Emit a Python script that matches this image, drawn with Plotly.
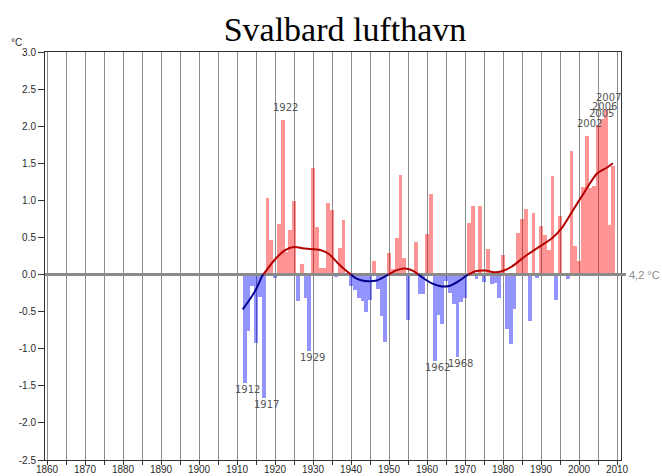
import plotly.graph_objects as go

# Annual temperature deviation, Svalbard lufthavn (°C, relative to the 4,2 °C normal)
years = list(range(1912, 2010))
deviation = [
    -1.46, -0.76, -0.16, -0.92, -0.30, -1.66, 1.03, 0.46, -0.05, 0.68,   # 1912-1921
    2.09, 0.30, 0.60, 0.99, -0.36, 0.14, -0.31, -1.03, 1.43, 0.64,      # 1922-1931
    0.09, 0.09, 0.97, 0.87, -0.03, 0.36, 0.73, 0.02, -0.16, -0.21,      # 1932-1941
    -0.31, -0.35, -0.50, -0.34, 0.18, -0.20, -0.56, -0.91, 0.29, 0.08,  # 1942-1951
    0.49, 1.34, 0.22, -0.61, 0.02, 0.44, -0.26, -0.26, 0.54, 1.09,      # 1952-1961
    -1.16, -0.55, -0.67, -0.09, -0.25, -0.40, -1.11, -0.37, -0.31, 0.70, # 1962-1971
    0.93, -0.06, 0.93, -0.10, 0.34, -0.13, -0.11, -0.31, 0.26, -0.73,   # 1972-1981
    -0.94, -0.47, 0.56, 0.75, 0.89, -0.62, 0.83, -0.05, 0.66, 0.53,     # 1982-1991
    0.33, 1.33, -0.34, 0.79, 0.02, -0.06, 1.66, 0.39, 0.18, 1.18,       # 1992-2001
    1.87, 1.17, 1.19, 2.01, 2.10, 2.22, 0.67, 1.46,                     # 2002-2009
]

# Smoothed trend (year, °C)
trend_years = [1911.5, 1914.8, 1916.6, 1920.1, 1922.7, 1924.9, 1928.0, 1931.9,
               1934.1, 1936.8, 1938.9, 1941.1, 1942.9, 1944.6, 1946.8, 1949.5,
               1952.1, 1954.3, 1956.5, 1958.7, 1961.3, 1963.9, 1966.1, 1968.3,
               1970.5, 1972.7, 1975.3, 1978.0, 1979.7, 1982.4, 1985.9, 1989.4,
               1992.9, 1995.5, 1998.2, 2000.8, 2003.0, 2004.7, 2007.3, 2008.9]
trend_values = [-0.47, -0.22, -0.02, 0.21, 0.33, 0.37, 0.35, 0.33,
                0.28, 0.14, 0.045, -0.045, -0.08, -0.09, -0.08, -0.01,
                0.06, 0.08, 0.045, -0.036, -0.12, -0.16, -0.15, -0.09,
                -0.01, 0.045, 0.054, 0.03, 0.045, 0.11, 0.25, 0.37,
                0.49, 0.63, 0.85, 1.06, 1.24, 1.36, 1.44, 1.50]

# Years marked with a label
labelled_years = [1912, 1917, 1922, 1929, 1962, 1968, 2002, 2005, 2006, 2007]

x_tick_years = [1860, 1870, 1880, 1890, 1900, 1910, 1920, 1930,
                1940, 1950, 1960, 1970, 1980, 1990, 2000, 2010]
x_minor_years = [1865, 1875, 1885, 1895, 1905, 1915, 1925, 1935,
                 1945, 1955, 1965, 1975, 1985, 1995, 2005]
y_ticks = [-2.5, -2.0, -1.5, -1.0, -0.5, 0.0, 0.5, 1.0, 1.5, 2.0, 2.5, 3.0]
y_tick_labels = ["-2.5", "-2.0", "-1.5", "-1.0", "-0.5", "0.0",
                 "0.5", "1.0", "1.5", "2.0", "2.5", "3.0"]

title_text = "Svalbard lufthavn"
unit_text = "°C"
normal_text = "4,2 °C"

X_RANGE = [1859.47, 2011.05]
Y_RANGE = [-2.5, 3.0]

WARM_BAR = "rgba(255,0,0,0.42)"
COLD_BAR = "rgba(0,0,255,0.42)"
WARM_LINE = "#b40000"
COLD_LINE = "#00008c"
GRID = "#8c8c8c"
AXIS = "#333333"
TICK_FONT = dict(family="Liberation Sans, Arial, sans-serif", size=10, color="#2a2a2a")


def split_by_sign(xs, ys):
    """Split a polyline into runs above and below zero, joined at the crossings."""
    segments = []
    cur_x, cur_y = [xs[0]], [ys[0]]
    cur_pos = ys[0] >= 0
    for i in range(1, len(xs)):
        pos = ys[i] >= 0
        if pos != cur_pos:
            t = ys[i - 1] / (ys[i - 1] - ys[i])
            xc = xs[i - 1] + t * (xs[i] - xs[i - 1])
            cur_x.append(xc)
            cur_y.append(0.0)
            segments.append((cur_pos, cur_x, cur_y))
            cur_x, cur_y = [xc], [0.0]
            cur_pos = pos
        cur_x.append(xs[i])
        cur_y.append(ys[i])
    segments.append((cur_pos, cur_x, cur_y))
    return segments


fig = go.Figure()

fig.add_trace(go.Bar(
    x=years, y=deviation,
    marker=dict(color=[WARM_BAR if v >= 0 else COLD_BAR for v in deviation],
                line=dict(width=0)),
    hoverinfo="x+y", showlegend=False,
))

# Zero (normal) line
fig.add_trace(go.Scatter(
    x=X_RANGE, y=[0, 0], mode="lines",
    line=dict(color="#8a8a8a", width=3),
    hoverinfo="skip", showlegend=False,
))

for positive, sx, sy in split_by_sign(trend_years, trend_values):
    fig.add_trace(go.Scatter(
        x=sx, y=sy, mode="lines",
        line=dict(color=WARM_LINE if positive else COLD_LINE, width=2, shape="spline", smoothing=0.8),
        hoverinfo="skip", showlegend=False,
    ))

annotations = []
value_by_year = dict(zip(years, deviation))
for yr in labelled_years:
    v = value_by_year[yr]
    annotations.append(dict(
        x=yr, y=v, xref="x", yref="y", text=str(yr), showarrow=False,
        xshift=3, yshift=12 if v >= 0 else -7, yanchor="middle",
        font=dict(family="DejaVu Sans, sans-serif", size=10, color="#555555"),
    ))

annotations.append(dict(
    x=-0.05, y=1.024, xref="paper", yref="paper", text=unit_text, showarrow=False,
    xanchor="center", yanchor="middle", font=TICK_FONT,
))
annotations.append(dict(
    x=1.0105, y=0, xref="paper", yref="y", text=normal_text, showarrow=False,
    xanchor="left", yanchor="middle",
    font=dict(family="Liberation Sans, Arial, sans-serif", size=11, color="#8a8a8a"),
))

fig.update_layout(
    width=662, height=476,
    margin=dict(l=45, r=41, t=52, b=16, autoexpand=False),
    paper_bgcolor="white", plot_bgcolor="white",
    bargap=0,
    title=dict(
        text=title_text, x=345 / 662, xref="container", xanchor="center",
        y=1 - 29 / 476, yref="container", yanchor="middle",
        font=dict(family="Liberation Serif, Times New Roman, serif", size=34, color="#000000"),
    ),
    annotations=annotations,
    shapes=[dict(
        type="line", xref="paper", yref="y", x0=1.0, x1=1.0087, y0=0, y1=0,
        line=dict(color="#8a8a8a", width=3),
    )],
    xaxis=dict(
        range=X_RANGE, tickmode="array", tickvals=x_tick_years,
        ticktext=[str(y) for y in x_tick_years],
        ticks="outside", ticklen=4, tickcolor=AXIS, tickwidth=1,
        ticklabelstandoff=-4,
        showgrid=True, gridcolor=GRID, gridwidth=1,
        minor=dict(tickmode="array", tickvals=x_minor_years, ticks="outside",
                   ticklen=4, tickcolor=AXIS, showgrid=True, gridcolor=GRID, gridwidth=1),
        showline=True, mirror=True, linecolor=AXIS, linewidth=1,
        zeroline=False, tickfont=TICK_FONT, automargin=False,
    ),
    yaxis=dict(
        range=Y_RANGE, tickmode="array", tickvals=y_ticks, ticktext=y_tick_labels,
        ticks="outside", ticklen=6, tickcolor=AXIS, tickwidth=1,
        showgrid=False, zeroline=False,
        showline=True, mirror=True, linecolor=AXIS, linewidth=1,
        tickfont=TICK_FONT, automargin=False,
    ),
)

fig.write_html("out.html")
